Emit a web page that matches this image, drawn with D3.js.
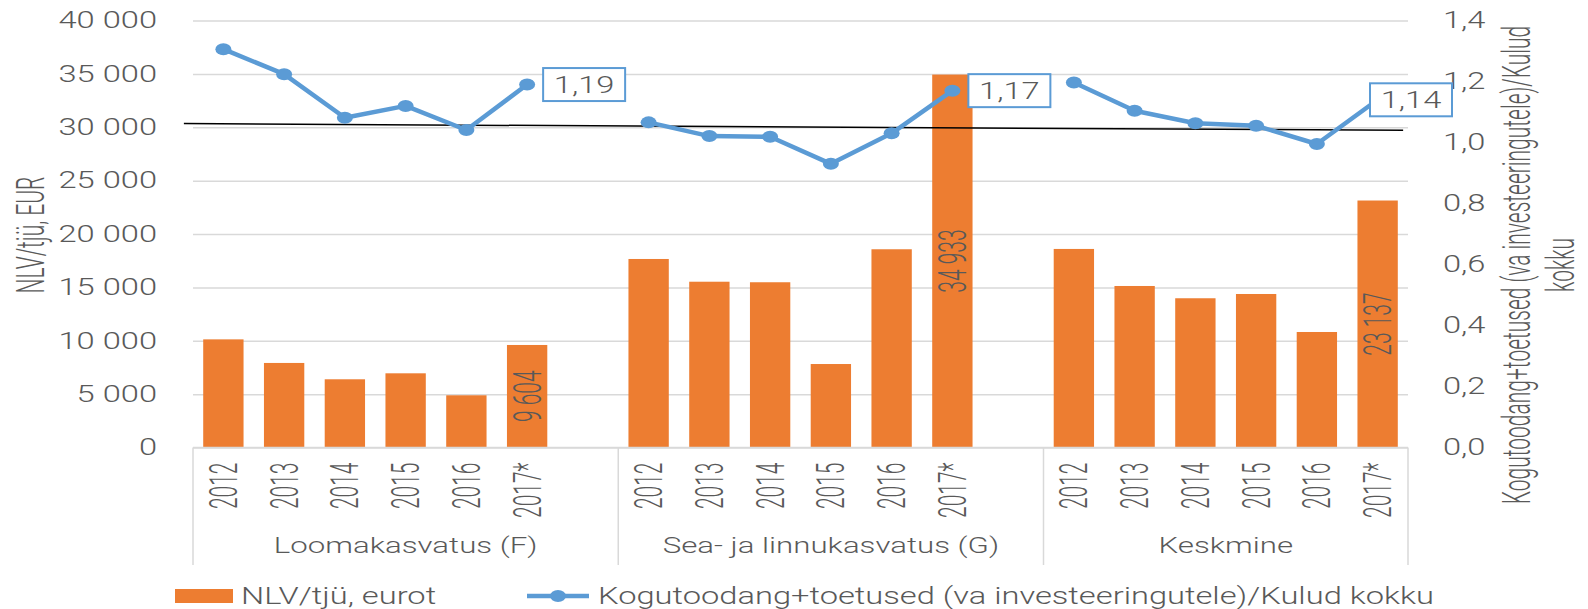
<html>
  <head>
    <title>NLV/tjü ja Kogutoodang/Kulud</title>
    <script src="https://d3js.org/d3.v7.min.js"></script>
    <style>
      body {
        margin: 0;
        background-color: white;
        font-family: Roboto, sans-serif;
      }
      text {
        font-family: Roboto, sans-serif;
        font-weight: 300;
        fill: #595959;
      }
    </style>
  </head>

  <body>
    <script>
      // data
      var years = ['2012', '2013', '2014', '2015', '2016', '2017*'];
      var groups = ['Loomakasvatus (F)', 'Sea- ja linnukasvatus (G)', 'Keskmine'];

      var nlvLooma = [10130, 7920, 6390, 6950, 4890, 9604];
      var nlvSea   = [17660, 15530, 15480, 7820, 18570, 34933];
      var nlvKesk  = [18600, 15130, 13980, 14380, 10820, 23137];

      var ratioLooma = [1.306, 1.224, 1.081, 1.120, 1.041, 1.19];
      var ratioSea   = [1.066, 1.021, 1.019, 0.930, 1.030, 1.17];
      var ratioKesk  = [1.197, 1.104, 1.063, 1.055, 0.995, 1.14];

      var leftTicks = [0, 5000, 10000, 15000, 20000, 25000, 30000, 35000, 40000];
      var rightTicks = [0, 0.2, 0.4, 0.6, 0.8, 1.0, 1.2, 1.4];

      // black reference line (right axis values, slot units)
      var trendValues = [1.062, 1.040];
      var trendSlots = [-0.15, 19.92];

      var legendBar = 'NLV/tjü, eurot';
      var legendLine = 'Kogutoodang+toetused (va investeeringutele)/Kulud kokku';
      var leftTitle = 'NLV/tjü, EUR';
      var rightTitle = ['Kogutoodang+toetused (va investeeringutele)/Kulud', 'kokku'];

      var nlvAll = [nlvLooma, nlvSea, nlvKesk];
      var ratioAll = [ratioLooma, ratioSea, ratioKesk];

      // layout
      var width = 1588, height = 609;
      var plotL = 193, plotR = 1408, plotT = 20.5, plotB = 447.5;
      var sxH = 1.42;   // horizontal stretch of flat text
      var sxV = 1.85;   // horizontal stretch of rotated text
      var orange = '#ED7D31', blue = '#5B9BD5', grid = '#d9d9d9';

      var locale = d3.formatLocale({decimal: ',', thousands: ' ', grouping: [3], currency: ['', '']});
      var fmtInt = locale.format(',.0f');
      var fmt1 = locale.format('.1f');
      var fmt2 = locale.format('.2f');

      // slots: 6 years per group, one empty slot between groups
      var slots = [];
      var rows = [];
      groups.forEach(function(g, gi){
        years.forEach(function(y, yi){
          var key = g + '|' + y;
          slots.push(key);
          rows.push({key: key, group: gi, year: y, nlv: nlvAll[gi][yi], ratio: ratioAll[gi][yi], last: yi == years.length - 1});
        });
        if(gi < groups.length - 1) slots.push('gap' + gi);
      });

      var x = d3.scaleBand().domain(slots).range([plotL, plotR]).paddingInner(0.336).paddingOuter(0.168);
      var slotX = d3.scaleLinear().domain([0, slots.length]).range([plotL, plotR]);
      var yLeft = d3.scaleLinear().domain([0, 40000]).range([plotB, plotT]);
      var yRight = d3.scaleLinear().domain([0, 1.4]).range([plotB, plotT]);

      var cx = function(d){ return x(d.key) + x.bandwidth() / 2; };

      var svg = d3.select('body').append('svg')
        .attr('width', width)
        .attr('height', height);

      // gridlines
      svg.append('g')
        .attr('transform', 'translate(' + plotL + ',0)')
        .call(d3.axisLeft(yLeft).tickValues(leftTicks).tickSize(-(plotR - plotL)).tickFormat(''))
        .call(function(g){
          g.select('.domain').remove();
          g.selectAll('line').attr('stroke', grid).attr('stroke-width', 1.5);
        });

      // left axis labels
      svg.append('g')
        .attr('transform', 'translate(' + plotL + ',0)')
        .call(d3.axisLeft(yLeft).tickValues(leftTicks).tickSize(0).tickFormat(fmtInt))
        .call(function(g){
          g.select('.domain').remove();
          g.selectAll('text')
            .attr('x', -36 / sxH)
            .attr('transform', 'scale(' + sxH + ',1)')
            .style('font-size', '23px')
            .style('font-family', 'Roboto, sans-serif')
            .attr('fill', '#595959');
        });

      // right axis labels
      svg.append('g')
        .attr('transform', 'translate(' + plotR + ',0)')
        .call(d3.axisRight(yRight).tickValues(rightTicks).tickSize(0).tickFormat(fmt1))
        .call(function(g){
          g.select('.domain').remove();
          g.selectAll('text')
            .attr('x', 35 / sxH)
            .attr('transform', 'scale(' + sxH + ',1)')
            .style('font-size', '23px')
            .style('font-family', 'Roboto, sans-serif')
            .attr('fill', '#595959');
        });

      // bars
      svg.append('g').selectAll('rect')
        .data(rows)
        .enter().append('rect')
        .attr('x', function(d){ return x(d.key); })
        .attr('width', x.bandwidth())
        .attr('y', function(d){ return yLeft(d.nlv); })
        .attr('height', function(d){ return plotB - yLeft(d.nlv); })
        .attr('fill', orange);

      // bar value labels (last year of each group)
      svg.append('g').selectAll('text')
        .data(rows.filter(function(d){ return d.last; }))
        .enter().append('text')
        .attr('transform', function(d){
          var cy = (yLeft(d.nlv) + plotB) / 2;
          return 'translate(' + cx(d) + ',' + cy + ') scale(' + sxV + ',1) rotate(-90)';
        })
        .attr('text-anchor', 'middle')
        .attr('dy', '0.35em')
        .style('font-size', '21px')
        .text(function(d){ return fmtInt(d.nlv); });

      // bottom axis line
      svg.append('line')
        .attr('x1', plotL).attr('x2', plotR)
        .attr('y1', plotB).attr('y2', plotB)
        .attr('stroke', grid).attr('stroke-width', 1.5);

      // year labels
      svg.append('g')
        .attr('transform', 'translate(0,' + plotB + ')')
        .call(d3.axisBottom(x).tickSize(0).tickFormat(function(k){
          return k.indexOf('|') > 0 ? k.split('|')[1] : '';
        }))
        .call(function(g){
          g.select('.domain').remove();
          g.selectAll('text')
            .attr('x', 0).attr('y', 0)
            .attr('dy', '0.35em')
            .attr('text-anchor', 'end')
            .attr('transform', 'translate(0,15) scale(' + sxV + ',1) rotate(-90)')
            .style('font-size', '21px')
            .style('font-family', 'Roboto, sans-serif')
            .attr('fill', '#595959');
        });

      // group separators and labels
      var half = x.step() * x.paddingInner() / 2;
      var groupStart = function(gi){ return x(groups[gi] + '|' + years[0]) - half; };
      var bounds = groups.map(function(g, gi){ return groupStart(gi); }).concat([plotR]);

      svg.append('g').selectAll('line')
        .data(bounds)
        .enter().append('line')
        .attr('x1', function(d){ return d; }).attr('x2', function(d){ return d; })
        .attr('y1', plotB).attr('y2', 565)
        .attr('stroke', grid).attr('stroke-width', 1.5);

      svg.append('g').selectAll('text')
        .data(groups)
        .enter().append('text')
        .attr('transform', function(d, i){
          var mid = (bounds[i] + bounds[i + 1]) / 2;
          return 'translate(' + mid + ',553) scale(' + sxH + ',1)';
        })
        .attr('text-anchor', 'middle')
        .style('font-size', '22px')
        .text(function(d){ return d; });

      // reference line
      svg.append('line')
        .attr('x1', slotX(trendSlots[0])).attr('x2', slotX(trendSlots[1]))
        .attr('y1', yRight(trendValues[0])).attr('y2', yRight(trendValues[1]))
        .attr('stroke', 'black').attr('stroke-width', 1.5);

      // ratio line, one piece per group
      var line = d3.line()
        .x(cx)
        .y(function(d){ return yRight(d.ratio); });

      var lineG = svg.append('g');
      groups.forEach(function(g, gi){
        var pts = rows.filter(function(d){ return d.group == gi; });
        lineG.append('path')
          .datum(pts)
          .attr('d', line)
          .attr('fill', 'none')
          .attr('stroke', blue)
          .attr('stroke-width', 4.5)
          .attr('stroke-linejoin', 'round');
      });

      lineG.selectAll('ellipse')
        .data(rows)
        .enter().append('ellipse')
        .attr('cx', cx)
        .attr('cy', function(d){ return yRight(d.ratio); })
        .attr('rx', 8).attr('ry', 6)
        .attr('fill', blue);

      // ratio labels in boxes
      var boxW = 82, boxH = 33;
      var labels = svg.append('g').selectAll('g')
        .data(rows.filter(function(d){ return d.last; }))
        .enter().append('g')
        .attr('transform', function(d){
          var bx = Math.min(cx(d) + 16, plotR + 44 - boxW);
          var by = yRight(d.ratio) - boxH / 2;
          return 'translate(' + bx + ',' + by + ')';
        });

      labels.append('rect')
        .attr('width', boxW).attr('height', boxH)
        .attr('fill', 'white')
        .attr('stroke', blue).attr('stroke-width', 2);

      labels.append('text')
        .attr('transform', 'translate(' + boxW / 2 + ',' + boxH / 2 + ') scale(' + sxH + ',1)')
        .attr('text-anchor', 'middle')
        .attr('dy', '0.36em')
        .style('font-size', '23px')
        .text(function(d){ return fmt2(d.ratio); });

      // axis titles
      svg.append('text')
        .attr('transform', 'translate(30,235) scale(' + sxV + ',1) rotate(-90)')
        .attr('text-anchor', 'middle')
        .attr('dy', '0.35em')
        .style('font-size', '21px')
        .text(leftTitle);

      svg.append('g').selectAll('text')
        .data(rightTitle)
        .enter().append('text')
        .attr('transform', function(d, i){
          return 'translate(' + (1516 + i * 44) + ',265) scale(' + sxV + ',1) rotate(-90)';
        })
        .attr('text-anchor', 'middle')
        .attr('dy', '0.35em')
        .style('font-size', '21px')
        .text(function(d){ return d; });

      // legend
      var legend = svg.append('g');
      legend.append('rect')
        .attr('x', 175).attr('y', 589)
        .attr('width', 58).attr('height', 14)
        .attr('fill', orange);
      legend.append('text')
        .attr('transform', 'translate(241,596) scale(' + sxH + ',1)')
        .attr('dy', '0.35em')
        .style('font-size', '23px')
        .text(legendBar);

      legend.append('line')
        .attr('x1', 527).attr('x2', 589)
        .attr('y1', 596).attr('y2', 596)
        .attr('stroke', blue).attr('stroke-width', 4.5);
      legend.append('ellipse')
        .attr('cx', 558).attr('cy', 596)
        .attr('rx', 8).attr('ry', 6)
        .attr('fill', blue);
      legend.append('text')
        .attr('transform', 'translate(598,596) scale(' + sxH + ',1)')
        .attr('dy', '0.35em')
        .style('font-size', '23px')
        .text(legendLine);
    </script>
  </body>
</html>
